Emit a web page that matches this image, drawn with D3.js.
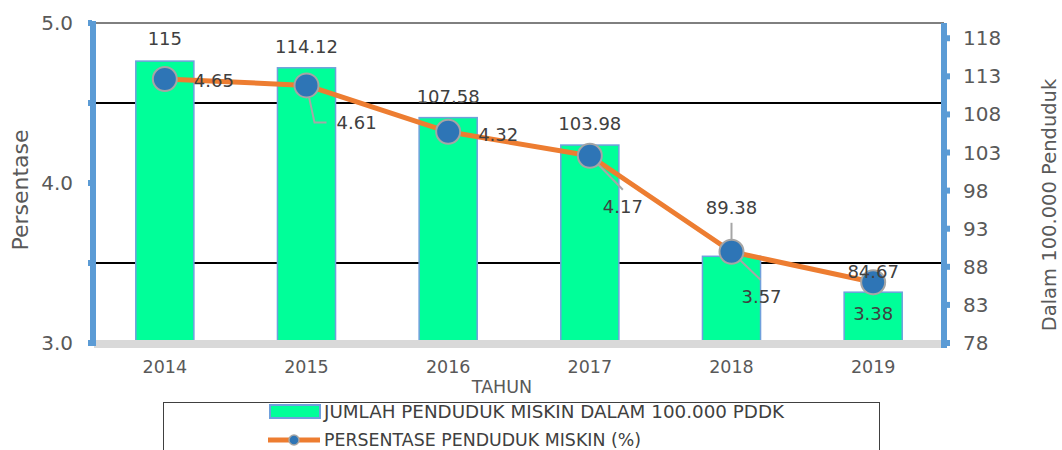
<!DOCTYPE html>
<html>
<head>
<meta charset="utf-8">
<script src="https://cdn.jsdelivr.net/npm/d3@7"></script>
<style>
  body { margin: 0; background: #fff; }
  svg text { font-family: "DejaVu Sans", sans-serif; }
</style>
</head>
<body>
<div id="chart"></div>
<script>
// data
const years = ["2014", "2015", "2016", "2017", "2018", "2019"];
const jumlahMiskin = [115, 114.12, 107.58, 103.98, 89.38, 84.67];
const persenMiskin = [4.65, 4.61, 4.32, 4.17, 3.57, 3.38];
const leftTicks = [3.0, 4.0, 5.0];
const leftTickMarks = [3.0, 3.5, 4.0, 4.5, 5.0];
const gridValues = [3.5, 4.5];
const rightTicks = [78, 83, 88, 93, 98, 103, 108, 113, 118];

// label placement for the percentage labels (dx, dy from marker, anchor, leader)
const pctLabelPos = [
  { dx: 29, dy: 2, anchor: "start", leader: null },
  { dx: 30, dy: 37, anchor: "start", leader: [[0, 0], [8, 37], [20, 37]] },
  { dx: 30, dy: 3, anchor: "start", leader: null },
  { dx: 33, dy: 51, anchor: "middle", leader: [[0, 0], [33, 34]] },
  { dx: 30, dy: 45, anchor: "middle", leader: [[0, 0], [29, 28]] },
  { dx: 0, dy: 31, anchor: "middle", leader: [[0, 0], [0, 13]] }
];
const barLabelPos = [
  { dy: -22, leader: null },
  { dy: -21, leader: null },
  { dy: -21, leader: null },
  { dy: -21, leader: null },
  { dy: -44, leader: [[0, 0], [0, -29]] },
  { dy: -20, leader: null }
];

const W = 1062, H = 450;
const x0 = 94, x1 = 944, yTop = 23, yBot = 343;

const svg = d3.select("#chart").append("svg")
  .attr("width", W).attr("height", H);

const x = d3.scaleBand().domain(years).range([x0, x1]).paddingInner(0.59).paddingOuter(0.295);
const yL = d3.scaleLinear().domain([3, 5]).range([yBot, yTop]);
const yR = d3.scaleLinear().domain([78, 120]).range([yBot, yTop]);
const cx = d => x(d) + x.bandwidth() / 2;

// top line and gridlines
svg.append("line")
  .attr("x1", x0).attr("x2", x1)
  .attr("y1", yL(5)).attr("y2", yL(5))
  .attr("stroke", "#000").attr("stroke-width", 1);
svg.selectAll(".grid").data(gridValues).enter().append("line")
  .attr("class", "grid")
  .attr("x1", x0).attr("x2", x1)
  .attr("y1", d => yL(d)).attr("y2", d => yL(d))
  .attr("stroke", "#000").attr("stroke-width", 2);

// bars
svg.selectAll(".bar").data(jumlahMiskin).enter().append("rect")
  .attr("class", "bar")
  .attr("x", (d, i) => x(years[i]))
  .attr("width", x.bandwidth())
  .attr("y", d => yR(d))
  .attr("height", d => yR(78) - yR(d))
  .attr("fill", "#00FF99")
  .attr("stroke", "#6FA0DC")
  .attr("stroke-width", 1.5);

// bottom category axis band
svg.append("rect")
  .attr("x", x0).attr("y", yBot - 3)
  .attr("width", x1 - x0).attr("height", 8)
  .attr("fill", "#D9D9D9");

// left axis
const gl = svg.append("g");
gl.append("line")
  .attr("x1", x0 - 1).attr("x2", x0 - 1)
  .attr("y1", yTop - 2).attr("y2", yBot + 3)
  .attr("stroke", "#5B9BD5").attr("stroke-width", 6);
gl.selectAll(".lt").data(leftTickMarks).enter().append("rect")
  .attr("x", x0 - 6).attr("y", d => yL(d) - 3)
  .attr("width", 4).attr("height", 6)
  .attr("fill", "#5B9BD5");
gl.selectAll(".ll").data(leftTicks).enter().append("text")
  .attr("x", 73).attr("y", d => yL(d))
  .attr("dy", "0.35em")
  .attr("text-anchor", "end")
  .attr("font-size", 20)
  .attr("fill", "#595959")
  .text(d => d3.format(".1f")(d));
gl.append("text")
  .attr("transform", `translate(28,${190}) rotate(-90)`)
  .attr("text-anchor", "middle")
  .attr("font-size", 22)
  .attr("fill", "#595959")
  .text("Persentase");

// right axis
const gr = svg.append("g");
gr.append("line")
  .attr("x1", x1).attr("x2", x1)
  .attr("y1", yTop).attr("y2", yBot + 5)
  .attr("stroke", "#5B9BD5").attr("stroke-width", 6);
gr.selectAll(".rt").data(rightTicks).enter().append("rect")
  .attr("x", x1 + 2).attr("y", d => yR(d) - 3)
  .attr("width", 4).attr("height", 6)
  .attr("fill", "#5B9BD5");
gr.selectAll(".rl").data(rightTicks).enter().append("text")
  .attr("x", 963).attr("y", d => yR(d))
  .attr("dy", "0.35em")
  .attr("font-size", 20)
  .attr("fill", "#595959")
  .text(d => d);
gr.append("text")
  .attr("transform", `translate(1056,${205}) rotate(-90)`)
  .attr("text-anchor", "middle")
  .attr("font-size", 19.5)
  .attr("fill", "#595959")
  .text("Dalam 100.000  Penduduk");

// x labels
svg.selectAll(".xl").data(years).enter().append("text")
  .attr("x", d => cx(d)).attr("y", 367)
  .attr("dy", "0.35em")
  .attr("text-anchor", "middle")
  .attr("font-size", 17.5)
  .attr("fill", "#595959")
  .text(d => d);
svg.append("text")
  .attr("x", 502).attr("y", 387)
  .attr("dy", "0.35em")
  .attr("text-anchor", "middle")
  .attr("font-size", 17.5)
  .attr("fill", "#595959")
  .text("TAHUN");

// line
const pts = persenMiskin.map((v, i) => [cx(years[i]), yL(v)]);
svg.append("path")
  .attr("d", d3.line()(pts))
  .attr("fill", "none")
  .attr("stroke", "#ED7D31")
  .attr("stroke-width", 5)
  .attr("stroke-linejoin", "round");

// leader lines
const leaders = svg.append("g")
  .attr("fill", "none").attr("stroke", "#A6A6A6").attr("stroke-width", 2);
pctLabelPos.forEach((p, i) => {
  if (!p.leader) return;
  leaders.append("path").attr("d", d3.line()(p.leader.map(q => [pts[i][0] + q[0], pts[i][1] + q[1]])));
});
barLabelPos.forEach((p, i) => {
  if (!p.leader) return;
  leaders.append("path").attr("d", d3.line()(p.leader.map(q => [pts[i][0] + q[0], pts[i][1] + q[1]])));
});

// markers
svg.selectAll(".dot").data(pts).enter().append("circle")
  .attr("cx", d => d[0]).attr("cy", d => d[1])
  .attr("r", 12)
  .attr("fill", "#2E75B6")
  .attr("stroke", "#A5A5A5")
  .attr("stroke-width", 2);

// bar labels
svg.selectAll(".bl").data(jumlahMiskin).enter().append("text")
  .attr("x", (d, i) => cx(years[i]))
  .attr("y", (d, i) => barLabelPos[i].leader ? pts[i][1] + barLabelPos[i].dy : yR(d) + barLabelPos[i].dy)
  .attr("dy", "0.35em")
  .attr("text-anchor", "middle")
  .attr("font-size", 18)
  .attr("fill", "#404040")
  .text(d => d);

// percent labels
svg.selectAll(".pl").data(persenMiskin).enter().append("text")
  .attr("x", (d, i) => pts[i][0] + pctLabelPos[i].dx)
  .attr("y", (d, i) => pts[i][1] + pctLabelPos[i].dy)
  .attr("dy", "0.35em")
  .attr("text-anchor", (d, i) => pctLabelPos[i].anchor)
  .attr("font-size", 18)
  .attr("fill", "#404040")
  .text(d => d);

// legend
const lg = svg.append("g");
lg.append("rect")
  .attr("x", 163.5).attr("y", 402.5)
  .attr("width", 716).attr("height", 60)
  .attr("fill", "#fff").attr("stroke", "#404040").attr("stroke-width", 1);
lg.append("rect")
  .attr("x", 270).attr("y", 405)
  .attr("width", 50).attr("height", 13)
  .attr("fill", "#00FF99").attr("stroke", "#6FA0DC").attr("stroke-width", 2);
lg.append("text")
  .attr("x", 324).attr("y", 412)
  .attr("dy", "0.35em")
  .attr("font-size", 18).attr("fill", "#404040")
  .attr("textLength", 460).attr("lengthAdjust", "spacingAndGlyphs")
  .text("JUMLAH PENDUDUK MISKIN DALAM 100.000 PDDK");
lg.append("line")
  .attr("x1", 268).attr("x2", 320)
  .attr("y1", 440).attr("y2", 440)
  .attr("stroke", "#ED7D31").attr("stroke-width", 5);
lg.append("circle")
  .attr("cx", 294).attr("cy", 440).attr("r", 5)
  .attr("fill", "#2E75B6").attr("stroke", "#A5A5A5").attr("stroke-width", 1.5);
lg.append("text")
  .attr("x", 324).attr("y", 440)
  .attr("dy", "0.35em")
  .attr("font-size", 18).attr("fill", "#404040")
  .attr("textLength", 317).attr("lengthAdjust", "spacingAndGlyphs")
  .text("PERSENTASE PENDUDUK MISKIN (%)");
</script>
</body>
</html>
